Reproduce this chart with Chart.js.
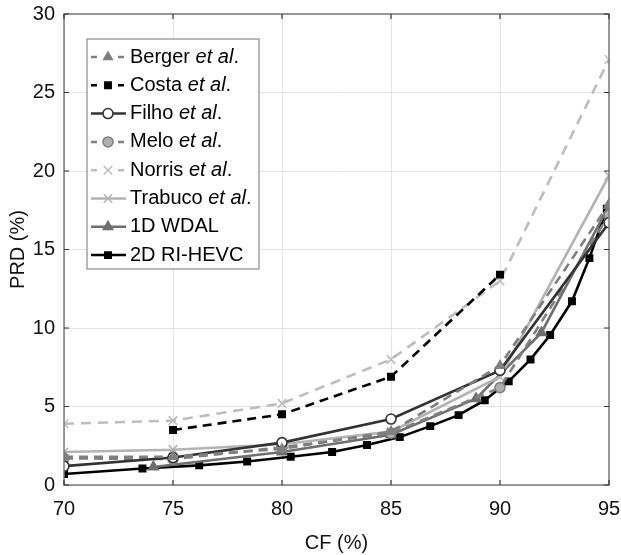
<!DOCTYPE html>
<html>
<head>
<meta charset="utf-8">
<script src="https://cdn.jsdelivr.net/npm/chart.js@4/dist/chart.umd.min.js"></script>
<style>
  html, body { margin: 0; padding: 0; background: #fff; }
  #wrap { width: 621px; height: 555px; }
</style>
</head>
<body>
<div id="wrap"><canvas id="chart" width="621" height="555"></canvas></div>
<script>
// values, CF (%) vs PRD (%)
const bergerCF  = [70, 75, 80, 85, 90, 95];
const bergerPRD = [1.8, 1.8, 2.3, 3.4, 7.6, 17.9];

const costaCF  = [75, 80, 85, 90];
const costaPRD = [3.5, 4.5, 6.9, 13.4];

const filhoCF  = [70, 75, 80, 85, 90, 95];
const filhoPRD = [1.2, 1.75, 2.7, 4.2, 7.3, 16.7];

const meloCF  = [70, 75, 80, 85, 90, 95];
const meloPRD = [1.7, 1.65, 2.4, 3.3, 6.2, 17.2];

const norrisCF  = [70, 75, 80, 85, 90, 95];
const norrisPRD = [3.9, 4.1, 5.2, 8.0, 13.0, 27.1];

const trabucoCF  = [70, 75, 80, 85, 90, 95];
const trabucoPRD = [2.1, 2.25, 2.6, 3.4, 6.9, 19.7];

const wdalCF  = [74.1, 80, 85, 88.9, 91.9, 95];
const wdalPRD = [1.15, 2.1, 3.2, 5.5, 9.7, 17.8];

const hevcCF  = [70, 73.6, 76.2, 78.4, 80.4, 82.3, 83.9, 85.4, 86.8, 88.1, 89.3, 90.4, 91.4, 92.3, 93.3, 94.1, 94.9];
const hevcPRD = [0.7, 1.05, 1.25, 1.5, 1.8, 2.1, 2.55, 3.05, 3.75, 4.45, 5.4, 6.6, 8.0, 9.55, 11.7, 14.45, 17.6];

const xTicks = [70, 75, 80, 85, 90, 95];
const yTicks = [0, 5, 10, 15, 20, 25, 30];

const FONT = '"Liberation Sans", Arial, Helvetica, sans-serif';

const pts = (xs, ys) => xs.map((x, i) => ({ x, y: ys[i] }));

const series = [
  { name: 'Berger', etal: true, xs: bergerCF, ys: bergerPRD, color: '#7f7f7f', dash: [9, 6], marker: 'triangle', r: 5, fill: '#7f7f7f' },
  { name: 'Costa', etal: true, xs: costaCF, ys: costaPRD, color: '#000000', dash: [9, 6], marker: 'rect', r: 4.5, fill: '#000000' },
  { name: 'Filho', etal: true, xs: filhoCF, ys: filhoPRD, color: '#333333', dash: [], marker: 'circle', r: 5, fill: '#ffffff' },
  { name: 'Melo', etal: true, xs: meloCF, ys: meloPRD, color: '#808080', dash: [9, 6], marker: 'circle', r: 5, fill: '#b0b0b0' },
  { name: 'Norris', etal: true, xs: norrisCF, ys: norrisPRD, color: '#bdbdbd', dash: [10, 7], marker: 'crossRot', r: 6, fill: '#bdbdbd' },
  { name: 'Trabuco', etal: true, xs: trabucoCF, ys: trabucoPRD, color: '#b3b3b3', dash: [], marker: 'crossRot', r: 6, fill: '#b3b3b3' },
  { name: '1D WDAL', etal: false, xs: wdalCF, ys: wdalPRD, color: '#6e6e6e', dash: [], marker: 'triangle', r: 5.5, fill: '#6e6e6e' },
  { name: '2D RI-HEVC', etal: false, xs: hevcCF, ys: hevcPRD, color: '#000000', dash: [], marker: 'rect', r: 4.5, fill: '#000000' }
];

// box, inward ticks, legend in the MATLAB style
const decor = {
  id: 'decor',
  afterDraw(chart) {
    const { ctx, chartArea: a, scales } = chart;
    ctx.save();
    ctx.strokeStyle = '#7a7a7a';
    ctx.lineWidth = 1.5;
    ctx.strokeRect(a.left, a.top, a.right - a.left, a.bottom - a.top);
    ctx.lineWidth = 1.2;
    ctx.strokeStyle = '#333';
    xTicks.forEach(v => {
      const x = scales.x.getPixelForValue(v);
      ctx.beginPath();
      ctx.moveTo(x, a.bottom); ctx.lineTo(x, a.bottom - 5);
      ctx.moveTo(x, a.top); ctx.lineTo(x, a.top + 5);
      ctx.stroke();
    });
    yTicks.forEach(v => {
      const y = scales.y.getPixelForValue(v);
      ctx.beginPath();
      ctx.moveTo(a.left, y); ctx.lineTo(a.left + 5, y);
      ctx.moveTo(a.right, y); ctx.lineTo(a.right - 5, y);
      ctx.stroke();
    });

    // legend
    const lx = 87, ly = 39, lw = 172, lh = 230, rowH = 28.3;
    ctx.fillStyle = '#fff';
    ctx.fillRect(lx, ly, lw, lh);
    ctx.strokeStyle = '#8a8a8a';
    ctx.lineWidth = 1.2;
    ctx.strokeRect(lx, ly, lw, lh);
    series.forEach((s, i) => {
      const cy = ly + 18 + i * rowH;
      ctx.strokeStyle = s.color;
      ctx.lineWidth = 2.5;
      if (s.dash.length) {
        ctx.beginPath();
        ctx.moveTo(91, cy); ctx.lineTo(97, cy);
        ctx.moveTo(118, cy); ctx.lineTo(124, cy);
        ctx.stroke();
      } else {
        ctx.beginPath();
        ctx.moveTo(91, cy); ctx.lineTo(126, cy);
        ctx.stroke();
      }
      ctx.lineWidth = 1.5;
      ctx.fillStyle = s.fill;
      ctx.strokeStyle = s.color;
      Chart.helpers.drawPoint(ctx, {
        pointStyle: s.marker, radius: s.r, borderWidth: 1.5, rotation: 0
      }, 108, cy);

      ctx.fillStyle = '#000';
      ctx.textBaseline = 'middle';
      ctx.textAlign = 'left';
      let tx = 130;
      ctx.font = '20px ' + FONT;
      const base = s.etal ? s.name + ' ' : s.name;
      ctx.fillText(base, tx, cy);
      tx += ctx.measureText(base).width;
      if (s.etal) {
        ctx.font = 'italic 20px ' + FONT;
        ctx.fillText('et al', tx, cy);
        tx += ctx.measureText('et al').width;
        ctx.font = '20px ' + FONT;
        ctx.fillText('.', tx, cy);
      }
    });
    ctx.restore();
  }
};

new Chart(document.getElementById('chart'), {
  type: 'line',
  data: {
    datasets: series.map(s => ({
      label: s.name,
      data: pts(s.xs, s.ys),
      borderColor: s.color,
      borderWidth: 2.6,
      borderDash: s.dash,
      pointStyle: s.marker,
      pointRadius: s.r,
      pointBorderWidth: 1.6,
      pointBorderColor: s.color,
      pointBackgroundColor: s.fill,
      tension: 0,
      fill: false
    }))
  },
  options: {
    responsive: false,
    animation: false,
    layout: { padding: { top: 14, right: 12, left: 6, bottom: 0 } },
    plugins: { legend: { display: false }, tooltip: { enabled: false } },
    scales: {
      x: {
        type: 'linear',
        min: 70, max: 95,
        afterBuildTicks: sc => { sc.ticks = xTicks.map(v => ({ value: v })); },
        grid: { color: '#e3e3e3', lineWidth: 1, drawTicks: false },
        border: { display: false },
        ticks: { color: '#111', font: { family: FONT, size: 20 }, padding: 12, maxRotation: 0 },
        title: { display: true, text: 'CF (%)', color: '#111', font: { family: FONT, size: 20 }, padding: { top: 2, bottom: 0 } },
        afterFit: sc => { sc.height = 70; sc.paddingLeft = 0; sc.paddingRight = 0; }
      },
      y: {
        min: 0, max: 30,
        afterBuildTicks: sc => { sc.ticks = yTicks.map(v => ({ value: v })); },
        grid: { color: '#e3e3e3', lineWidth: 1, drawTicks: false },
        border: { display: false },
        ticks: { color: '#111', font: { family: FONT, size: 20 }, padding: 9 },
        title: { display: true, text: 'PRD (%)', color: '#111', font: { family: FONT, size: 20 }, padding: { top: 0, bottom: 2 } },
        afterFit: sc => { sc.width = 58; sc.paddingTop = 0; sc.paddingBottom = 0; }
      }
    }
  },
  plugins: [decor]
});
</script>
</body>
</html>
